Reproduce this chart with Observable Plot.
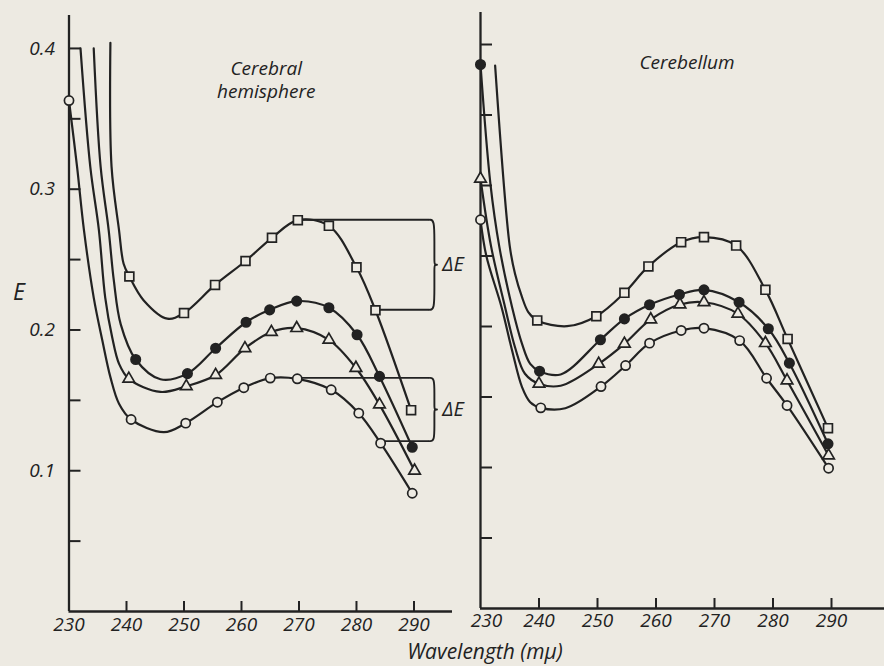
<!DOCTYPE html>
<html><head><meta charset="utf-8">
<script src="https://cdn.jsdelivr.net/npm/d3@7"></script>
<script src="https://cdn.jsdelivr.net/npm/@observablehq/plot@0.6"></script>
<style>
html,body{margin:0;padding:0;background:#edeae2;}
#wrap{position:relative;width:884px;height:666px;background:#edeae2;overflow:hidden;font-family:"Open Sans",sans-serif;color:#222;}
#wrap svg{position:absolute;top:0;overflow:visible;}
.lab{position:absolute;font-style:italic;font-weight:500;color:#222;white-space:nowrap;transform:translate(-50%,-50%);line-height:1;}
</style></head><body>
<div id="wrap">
  <div class="lab" style="left:19px;top:291px;font-size:23px;">E</div>
  <div class="lab" style="left:485px;top:651px;font-size:21px;">Wavelength (mμ)</div>
</div>
<script>
// ---------- axes ----------
const wavelengthTicks = [240, 250, 260, 270, 280, 290];
const leftXLabels = [230, 240, 250, 260, 270, 280, 290];
const rightXLabels = [240, 250, 260, 270, 280, 290];
const rightFirstLabel = [230];
const yTickValues = [0.05, 0.1, 0.15, 0.2, 0.25, 0.3, 0.35, 0.4];
const yLabelValues = [0.1, 0.2, 0.3, 0.4];

// ---------- Cerebral hemisphere: [wavelength (mμ), E] ----------
const hemiSquareMarked = [[240.5,0.238],[250.0,0.212],[255.4,0.232],[260.7,0.249],[265.3,0.2655],[269.8,0.278],[275.2,0.274],[280.0,0.2445],[283.3,0.214],[289.5,0.143]];
const hemiSquareTrace  = [[237.2,0.404],[237.4,0.316],[238.7,0.271],[239.5,0.247],[243.0,0.221],[247.1,0.208]];
const hemiFilledMarked = [[241.6,0.179],[250.6,0.169],[255.5,0.187],[260.8,0.2055],[264.9,0.2143],[269.6,0.2205],[275.2,0.2158],[280.1,0.1966],[284.0,0.167],[289.7,0.1167]];
const hemiFilledTrace  = [[234.3,0.400],[235.5,0.316],[236.9,0.271],[237.8,0.235],[239.0,0.204],[245.9,0.165]];
const hemiTriMarked    = [[240.4,0.1653],[250.4,0.160],[255.5,0.168],[260.6,0.187],[265.2,0.1985],[269.6,0.2013],[275.2,0.193],[279.9,0.173],[284.0,0.147],[290.1,0.100]];
const hemiTriTrace     = [[232.0,0.400],[233.7,0.316],[235.2,0.271],[236.3,0.223],[237.5,0.195],[238.7,0.176],[245.9,0.156]];
const hemiOpenMarked   = [[230.0,0.363],[240.8,0.1364],[250.3,0.1338],[255.8,0.1487],[260.4,0.159],[265.0,0.1658],[269.7,0.1653],[275.6,0.1575],[280.4,0.1409],[284.2,0.1196],[289.7,0.084]];
const hemiOpenTrace    = [[231.4,0.316],[232.6,0.271],[234.3,0.223],[235.8,0.1925],[237.2,0.1665],[238.7,0.1476],[246.5,0.1274]];
// ΔE brackets (start wavelength and E of upper / lower arm)
const hemiBrackets = [
  {from1: 269.8, top: 0.2783, from2: 283.3, bottom: 0.2144},
  {from1: 269.7, top: 0.166,  from2: 284.2, bottom: 0.121}
];
const hemiTitleLines = ["Cerebral", "hemisphere"];

// ---------- Cerebellum ----------
const cbSquareMarked = [[239.7,0.2043],[249.8,0.2073],[254.6,0.2239],[258.7,0.2426],[264.3,0.2598],[268.2,0.2634],[273.7,0.2574],[278.7,0.226],[282.5,0.1912],[289.4,0.1279]];
const cbSquareTrace  = [[232.5,0.385],[235.0,0.257],[235.9,0.2374],[237.1,0.2208],[238.2,0.210],[244.8,0.2002]];
const cbFilledMarked = [[230.0,0.3858],[240.1,0.1683],[250.5,0.1906],[254.6,0.2054],[258.9,0.2154],[264.0,0.2227],[268.2,0.226],[274.2,0.2172],[279.2,0.1984],[282.8,0.174],[289.4,0.1168]];
const cbFilledTrace  = [[231.7,0.301],[233.2,0.257],[235.4,0.2137],[237.1,0.1877],[238.5,0.1735],[243.7,0.166]];
const cbTriMarked    = [[230.0,0.3048],[240.0,0.1594],[250.2,0.1735],[254.6,0.1877],[259.1,0.205],[264.1,0.2156],[268.2,0.2172],[274.0,0.209],[278.7,0.1882],[282.4,0.1617],[289.5,0.1085]];
const cbTriTrace     = [[231.8,0.257],[234.2,0.2137],[235.9,0.1853],[237.6,0.1665],[243.7,0.158]];
const cbOpenMarked   = [[230.0,0.2757],[240.3,0.1423],[250.6,0.1574],[254.8,0.1723],[258.9,0.1882],[264.3,0.1972],[268.2,0.1988],[274.3,0.19],[278.9,0.1633],[282.4,0.144],[289.5,0.0995]];
const cbOpenTrace    = [[231.0,0.25],[233.6,0.2137],[235.4,0.183],[237.1,0.157],[238.5,0.1463],[244.5,0.142]];
const cbTitleLines = ["Cerebellum"];

const INK = "#222";
const BG = "#edeae2";

const hemiSeries = [
  {marked: hemiSquareMarked, trace: hemiSquareTrace, symbol: "square", r: 5, filled: false},
  {marked: hemiFilledMarked, trace: hemiFilledTrace, symbol: "circle", r: 4.7, filled: true},
  {marked: hemiTriMarked, trace: hemiTriTrace, symbol: "triangle", r: 4.3, filled: false},
  {marked: hemiOpenMarked, trace: hemiOpenTrace, symbol: "circle", r: 4.6, filled: false}
];
const cbSeries = [
  {marked: cbSquareMarked, trace: cbSquareTrace, symbol: "square", r: 5, filled: false},
  {marked: cbFilledMarked, trace: cbFilledTrace, symbol: "circle", r: 4.7, filled: true},
  {marked: cbTriMarked, trace: cbTriTrace, symbol: "triangle", r: 4.3, filled: false},
  {marked: cbOpenMarked, trace: cbOpenTrace, symbol: "circle", r: 4.6, filled: false}
];

const BRACE_X = 292.7, BRACE_W = 0.85;
function bracePoints(b, i) {
  const mid = (b.top + b.bottom) / 2;
  const h1 = (b.top - mid) * 0.5, h2 = (mid - b.bottom) * 0.5;
  const x0 = BRACE_X, x1 = BRACE_X + BRACE_W, x2 = BRACE_X + 1.8 * BRACE_W;
  return [[x0,b.top],[x1,b.top],[x1,b.top-h1],[x1,mid+h1*0.15],[x1,mid],[x2,mid],[x1,mid],[x1,mid-h2*0.15],[x1,b.bottom+h2],[x1,b.bottom],[x0,b.bottom]]
    .map(([x, y]) => ({x, y, i}));
}

const TXT = {fontSize: 19, fontStyle: "italic", fontWeight: 500};

function panel(o) {
  const fh = o.height - o.marginTop - o.marginBottom;
  const fw = o.width - o.marginLeft - o.marginRight;
  const ln = {stroke: INK, strokeWidth: 2.2};
  const marks = [
    Plot.ruleX([230], {stroke: INK, strokeWidth: 2.3}),
    Plot.ruleY([0], {stroke: INK, strokeWidth: 2.3}),
    Plot.tickX(wavelengthTicks, {x: d => d, insetTop: fh - 10, stroke: INK, strokeWidth: 2}),
    Plot.tickY(yTickValues, {y: d => d, insetRight: fw - 12, stroke: INK, strokeWidth: 2}),
    Plot.axisX(o.xLabels, {tickSize: 0, tickPadding: o.padX, label: null, ...TXT})
  ];
  if (o.xFirst) marks.push(Plot.axisX(o.xFirst, {tickSize: 0, tickPadding: o.padX, dx: 6, label: null, ...TXT}));
  if (o.yLabels) marks.push(Plot.axisY(o.yLabels, {anchor: "left", tickSize: 0, tickPadding: 14, tickFormat: d3.format(".1f"), label: null, ...TXT}));
  for (const s of o.series) {
    const pts = [...s.trace, ...s.marked].sort((a, b) => a[0] - b[0]);
    marks.push(Plot.line(pts, {x: d => d[0], y: d => d[1], curve: "catmull-rom", ...ln}));
  }
  if (o.brackets) {
    const arms = o.brackets.flatMap(b => [{y: b.top, x1: b.from1}, {y: b.bottom, x1: b.from2}]);
    marks.push(Plot.ruleY(arms, {y: "y", x1: "x1", x2: BRACE_X, stroke: INK, strokeWidth: 1.9}));
    marks.push(Plot.line(o.brackets.flatMap(bracePoints), {x: "x", y: "y", z: "i", curve: "basis", stroke: INK, strokeWidth: 1.9}));
    marks.push(Plot.text(o.brackets, {x: BRACE_X + 1.8 * BRACE_W, y: b => (b.top + b.bottom) / 2, text: () => "ΔE", textAnchor: "start", dx: 4, ...TXT, fontSize: 20}));
  }
  for (const s of o.series) {
    marks.push(Plot.dot(s.marked, {x: d => d[0], y: d => d[1], symbol: s.symbol, r: s.r,
      fill: s.filled ? INK : BG, stroke: INK, strokeWidth: 1.7}));
  }
  marks.push(Plot.text(o.titleLines, {x: o.titleX, y: (d, i) => o.titleY - i * o.titleStep, text: d => d, ...TXT, fontSize: 19}));
  return Plot.plot({
    width: o.width, height: o.height,
    marginLeft: o.marginLeft, marginRight: o.marginRight, marginTop: o.marginTop, marginBottom: o.marginBottom,
    x: {domain: [230, o.xMax], axis: null},
    y: {domain: [0, o.yMax], axis: null},
    style: {background: "transparent", color: INK, fontFamily: '"Open Sans", sans-serif', fontSize: "18px", fontStyle: "italic", overflow: "visible"},
    marks
  });
}

const left = panel({
  width: 460, height: 666, marginLeft: 68.5, marginRight: 8, marginTop: 15, marginBottom: 55,
  xMax: 296.7, yMax: 0.4234, series: hemiSeries, brackets: hemiBrackets,
  xLabels: leftXLabels, yLabels: yLabelValues, padX: 6,
  titleLines: hemiTitleLines, titleX: 264.3, titleY: 0.3855, titleStep: 0.0165
});
const right = panel({
  width: 450, height: 666, marginLeft: 46, marginRight: 0, marginTop: 12, marginBottom: 58,
  xMax: 299.06, yMax: 0.4227, series: cbSeries,
  xLabels: rightXLabels, xFirst: rightFirstLabel, padX: 5,
  titleLines: cbTitleLines, titleX: 265.3, titleY: 0.3869, titleStep: 0.0165
});
left.style.left = "0px";
right.style.left = "434px";
const wrap = document.getElementById("wrap");
wrap.appendChild(left);
wrap.appendChild(right);
</script>
</body></html>
